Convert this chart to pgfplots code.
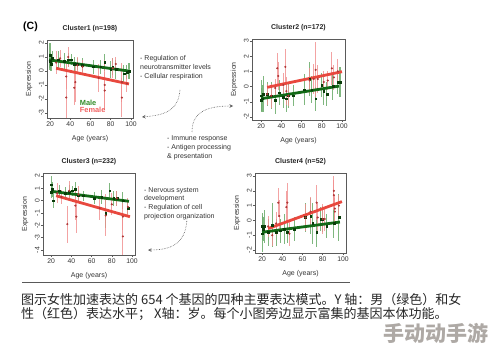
\documentclass[border=0pt]{standalone}
\usepackage{fontspec}
\setmainfont{Liberation Sans}
\newfontfamily\cjk{Noto Sans CJK SC}
\usepackage{pgfplots}
\pgfplotsset{compat=1.18}
\usepackage{pgfplotstable}

\definecolor{mgreen}{RGB}{18,105,22}
\definecolor{mred}{RGB}{232,72,62}
\definecolor{gbar}{RGB}{105,170,105}
\definecolor{rbar}{RGB}{240,140,140}
\definecolor{gpt}{RGB}{10,60,10}
\definecolor{rpt}{RGB}{175,55,55}
\definecolor{axgray}{RGB}{90,90,90}

% ---------- Cluster 1 ----------
\pgfplotstableread{
x y e
20 1.1 0.9
20 0.7 0.6
21 0.5 0.5
22 0.9 0.5
28 0.8 0.6
34 0.7 0.6
38 0.8 0.5
41 0.8 0.4
44 0.5 0.5
47 0.5 0.4
52 0.4 0.5
63 0.3 0.5
70 0.3 0.5
74 0.6 0.6
80 0.1 0.6
82 0.3 0.6
85 0.1 0.7
93 -0.2 0.6
96 -0.1 0.5
98 0.0 0.6
}\gA
\pgfplotstableread{
x y e
26 0.6 0.8
30 0.9 0.6
36 -1.9 1.6
36 -0.4 0.9
38 1.0 0.7
44 -1.2 1.2
45 -0.8 1.4
47 0.4 0.6
52 0.3 0.5
68 -0.5 1.0
74 -1.0 1.8
74 -1.4 1.3
82 0.2 0.7
85 0.5 0.5
91 -0.8 1.4
91 -1.9 1.4
96 -0.9 0.6
}\rA
\pgfplotstableread{
x y
19 0.79
97 0.0
}\gAl
\pgfplotstableread{
x y
26 0.19
98 -0.93
}\rAl

% ---------- Cluster 2 ----------
\pgfplotstableread{
x y e
20 -0.6 1.0
20 -0.9 0.8
21 -0.8 0.9
22 -0.5 1.2
26 -0.5 0.8
30 -0.6 0.9
34 -0.9 0.9
38 -0.4 0.8
42 -0.7 0.7
45 -0.8 0.9
47 -0.6 0.8
52 -0.6 0.7
63 -0.2 1.0
68 0.5 1.1
70 -0.2 0.9
74 -0.8 0.8
80 0.1 0.8
82 -0.3 0.9
85 -0.5 0.8
91 0.0 0.9
96 0.3 0.8
98 0.3 1.0
}\gB
\pgfplotstableread{
x y e
26 -0.5 0.7
30 -0.6 0.8
34 -0.1 0.6
36 1.2 1.0
37 0.7 0.9
42 0.1 0.8
44 1.3 1.2
45 -0.3 0.9
47 -0.6 0.7
68 0.4 0.8
72 0.5 1.0
74 1.1 1.8
76 0.5 0.9
82 0.3 0.7
86 0.4 0.6
90 1.2 1.1
92 0.6 0.8
96 1.0 0.8
}\rB
\pgfplotstableread{
x y
20 -0.8
97 0.03
}\gBl
\pgfplotstableread{
x y
26 -0.05
100 0.98
}\rBl

% ---------- Cluster 3 ----------
\pgfplotstableread{
x y e
20 1.3 0.7
20 0.7 0.5
21 0.9 0.6
22 0.0 0.6
28 0.8 0.5
34 0.6 0.5
38 0.7 0.6
41 0.8 0.4
44 0.9 0.6
47 0.4 0.5
52 0.4 0.4
63 0.2 0.5
70 0.3 0.6
74 -1.0 1.2
78 0.8 0.6
82 0.2 0.6
85 0.2 0.6
91 0.0 0.7
96 -0.6 0.5
}\gC
\pgfplotstableread{
x y e
26 0.6 0.8
30 0.3 0.6
36 -1.9 1.5
38 0.8 0.8
44 -0.4 1.2
45 -1.3 1.3
47 0.5 0.7
68 -0.6 1.0
74 -1.2 1.7
80 -0.3 0.9
85 0.2 0.6
91 -1.3 1.1
91 -2.9 1.5
96 -0.5 0.7
}\rC
\pgfplotstableread{
x y
20 0.76
97 -0.05
}\gCl
\pgfplotstableread{
x y
25 0.4
98 -1.3
}\rCl

% ---------- Cluster 4 ----------
\pgfplotstableread{
x y e
20 -0.4 0.9
20 -0.9 1.2
21 -0.6 0.8
22 -0.4 1.1
26 -0.8 0.9
30 -0.3 1.5
34 -0.8 0.9
38 -0.7 0.8
42 -0.6 1.0
45 -0.8 0.7
52 -0.6 0.8
63 0.2 1.0
68 0.3 1.2
70 -0.2 1.4
74 -0.8 1.0
78 0.1 0.8
80 0.1 0.9
84 -0.4 0.8
91 -0.2 1.0
96 0.2 1.6
}\gD
\pgfplotstableread{
x y e
26 -0.4 0.7
30 -1.0 0.7
34 -0.2 0.8
36 1.2 1.0
37 0.3 1.1
44 0.9 1.1
45 1.2 1.3
47 -0.9 0.8
63 0.2 0.9
68 0.6 1.0
74 1.2 1.2
75 0.2 1.0
80 0.1 1.0
82 0.1 0.8
91 2.0 1.0
91 1.7 1.0
92 0.8 0.9
92 0.6 0.9
96 1.0 0.7
}\rD
\pgfplotstableread{
x y
20 -0.8
97 -0.11
}\gDl
\pgfplotstableread{
x y
26 -0.55
99 1.27
}\rDl

\pgfplotsset{
  panel/.style={
    scale only axis,
    anchor=south west,
    axis line style={axgray, line width=0.6pt},
    tick align=outside, tick pos=left,
    major tick length=2.2pt,
    every tick/.style={axgray, line width=0.5pt},
    xtick={20,40,60,80,100},
    /pgf/number format/assume math mode=true,
    tick label style={font=\fontsize{6.8}{7}\selectfont, text=black!80},
    yticklabel style={rotate=90, anchor=south, inner sep=1pt},
    xticklabel style={inner sep=1.5pt},
    xlabel={Age (years)}, ylabel={Expression},
    every axis x label/.style={at={(rel axis cs:0.5,0)}, yshift=-21pt, anchor=center, font=\fontsize{7}{7}\selectfont, text=black!80},
    every axis y label/.style={at={(rel axis cs:0,0.5)}, xshift=-18pt, rotate=90, anchor=center, font=\fontsize{7}{7}\selectfont, text=black!80},
    every axis title/.style={at={(rel axis cs:0.5,1)}, yshift=11pt, anchor=center, font=\bfseries\fontsize{7}{7}\selectfont, text=black!85},
  },
  gerr/.style={only marks, mark=square*, mark size=0.9pt, mark options={gpt, fill=gpt},
    error bars/.cd, y dir=both, y explicit, error bar style={gbar, line width=1.1pt, opacity=0.85}, error mark=none},
  rerr/.style={only marks, mark=*, mark size=0.85pt, mark options={rpt, fill=rpt},
    error bars/.cd, y dir=both, y explicit, error bar style={rbar, line width=1.1pt, opacity=0.8}, error mark=none},
  gline/.style={no marks, mgreen, line width=2.8pt},
  rline/.style={no marks, mred, line width=2.8pt},
}

\begin{document}
\begin{tikzpicture}[x=1pt,y=1pt]
\path[use as bounding box] (0,0) rectangle (494,351);

% Panel 1
\begin{axis}[panel, at={(47pt,233pt)}, width=86pt, height=78pt,
  xmin=17, xmax=102, ymin=-3.36, ymax=2.21, ytick={-3,-2,-1,0,1,2},
  title={Cluster1 (n=198)}]
\addplot[gerr] table[x=x, y=y, y error=e] {\gA};
\addplot[rerr] table[x=x, y=y, y error=e] {\rA};
\addplot[rline] table[x=x, y=y] {\rAl};
\addplot[gline] table[x=x, y=y] {\gAl};
\node[anchor=west, font=\bfseries\fontsize{7.4}{8}\selectfont, text={rgb,255:red,50;green,140;blue,40}, inner sep=0] at (rel axis cs:0.38,0.19) {Male};
\node[anchor=west, font=\bfseries\fontsize{7.4}{8}\selectfont, text={rgb,255:red,240;green,95;blue,95}, inner sep=0] at (rel axis cs:0.38,0.10) {Female};
\end{axis}

% Panel 2
\begin{axis}[panel, at={(252pt,231pt)}, width=93pt, height=81pt,
  xmin=11, xmax=103, ymin=-2.2, ymax=3.13, ytick={-2,-1,0,1,2,3},
  title={Cluster2 (n=172)}]
\addplot[gerr] table[x=x, y=y, y error=e] {\gB};
\addplot[rerr] table[x=x, y=y, y error=e] {\rB};
\addplot[rline] table[x=x, y=y] {\rBl};
\addplot[gline] table[x=x, y=y] {\gBl};
\end{axis}

% Panel 3
\begin{axis}[panel, at={(43pt,96pt)}, width=92pt, height=82pt,
  xmin=12, xmax=103, ymin=-4.4, ymax=2.24, ytick={-4,-3,-2,-1,0,1,2},
  title={Cluster3 (n=232)}]
\addplot[gerr] table[x=x, y=y, y error=e] {\gC};
\addplot[rerr] table[x=x, y=y, y error=e] {\rC};
\addplot[rline] table[x=x, y=y] {\rCl};
\addplot[gline] table[x=x, y=y] {\gCl};
\end{axis}

% Panel 4
\begin{axis}[panel, at={(255pt,98pt)}, width=91pt, height=80pt,
  xmin=13, xmax=103, ymin=-2.2, ymax=3.2, ytick={-2,-1,0,1,2,3},
  title={Cluster4 (n=52)}]
\addplot[gerr] table[x=x, y=y, y error=e] {\gD};
\addplot[rerr] table[x=x, y=y, y error=e] {\rD};
\addplot[rline] table[x=x, y=y] {\rDl};
\addplot[gline] table[x=x, y=y] {\gDl};
\end{axis}

% Panel label
\node[font=\bfseries\fontsize{10.5}{11}\selectfont] at (30.5,324.3) {(C)};

% Annotations
\node[anchor=north west, align=left, inner sep=0, font=\fontsize{7}{9}\selectfont, text=black!80] at (140,295.5)
  {- Regulation of\\neurotransmitter levels\\- Cellular respiration};
\node[anchor=north west, align=left, inner sep=0, font=\fontsize{7}{9}\selectfont, text=black!80] at (167,215.5)
  {- Immune response\\- Antigen processing\\\& presentation};
\node[anchor=north west, align=left, inner sep=0, font=\fontsize{7}{8.7}\selectfont, text=black!80] at (144,164)
  {- Nervous system\\development\\- Regulation of cell\\projection organization};

\draw[densely dotted, line width=0.6pt, black!65, -stealth] (180,261) .. controls (178,240) and (165,236) .. (142,234);
\draw[densely dotted, line width=0.6pt, black!65, -stealth] (192,219) .. controls (192,238) and (205,245) .. (233,245);
\draw[densely dotted, line width=0.6pt, black!65, -stealth] (187,133) .. controls (186,110) and (175,101) .. (148,101);

% Rule
\draw[black!65, line width=0.8pt] (22,69) -- (350,69);

% Caption
\node[anchor=west, inner sep=0, font=\cjk\fontsize{13}{14}\selectfont, text=black!85] at (21,51)
  {图示女性加速表达的 654 个基因的四种主要表达模式。Y 轴：男（绿色）和女};
\node[anchor=west, inner sep=0, font=\cjk\fontsize{13}{14}\selectfont, text=black!85] at (21,37)
  {性（红色）表达水平； X轴：岁。每个小图旁边显示富集的基因本体功能。};

% Watermark
\node[inner sep=0, font=\cjk\bfseries\fontsize{21}{21}\selectfont, text={rgb,255:red,165;green,160;blue,155}, opacity=0.9] at (435.5,17.5) {手动动手游};
\end{tikzpicture}
\end{document}
